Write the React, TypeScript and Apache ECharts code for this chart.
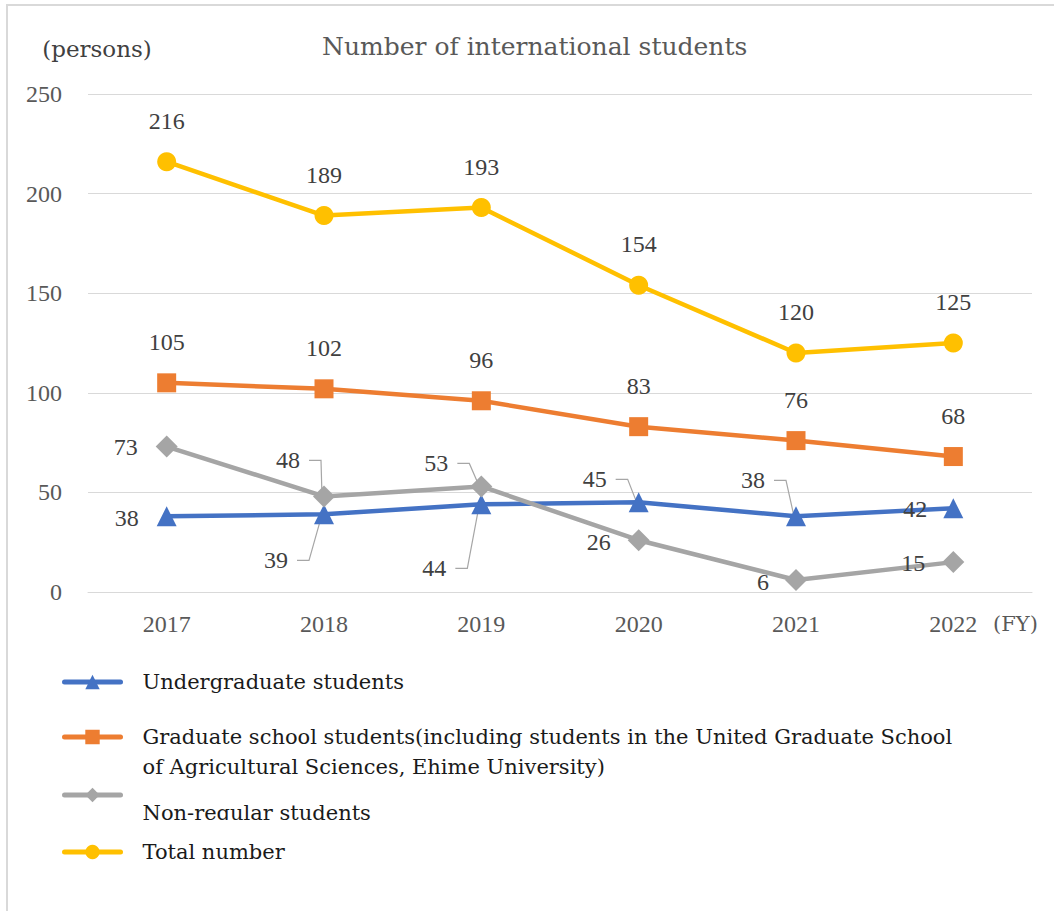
import React, { useEffect, useRef } from "react";
import * as echarts from "echarts";

const CATEGORIES = ["2017", "2018", "2019", "2020", "2021", "2022"];
const UNDERGRAD = [38, 39, 44, 45, 38, 42];
const GRADUATE = [105, 102, 96, 83, 76, 68];
const NON_REGULAR = [73, 48, 53, 26, 6, 15];
const TOTAL = [216, 189, 193, 154, 120, 125];
const Y_MIN = 0;
const Y_MAX = 250;
const Y_STEP = 50;

const SERIES_NAMES = [
  "Undergraduate students",
  "Graduate school students(including students in the United Graduate School of Agricultural Sciences, Ehime University)",
  "Non-regular students",
  "Total number",
];
const LEGEND_LINES = [
  ["Undergraduate students"],
  [
    "Graduate school students(including students in the United Graduate School",
    "of Agricultural Sciences, Ehime University)",
  ],
  ["Non-regular students"],
  ["Total number"],
];
const TITLE = "Number of international students";
const Y_UNIT = "(persons)";
const X_UNIT = "(FY)";

const COLORS = ["#4472C4", "#ED7D31", "#A5A5A5", "#FFC000"];
const SYMBOLS = ["triangle", "rect", "diamond", "circle"];
const SYMBOL_SIZES = [20, 19, 22, 19];

// label placement relative to each point (px), and which ones get a leader line
const LABEL_OFFSETS = [
  [[-40, 2], [-48, 46], [-47, 64], [-44, -23], [-43, -36], [-38, 1]],
  [[0, -41], [0, -41], [0, -41], [0, -41], [0, -41], [0, -41]],
  [[-41, 0], [-36, -36], [-45, -23], [-40, 2], [-33, 2], [-40, 1]],
  [[0, -41], [0, -41], [0, -41], [0, -41], [0, -41], [0, -41]],
];
const LEADERS = [
  [false, true, true, true, true, false],
  [false, false, false, false, false, false],
  [false, true, true, false, false, false],
  [false, false, false, false, false, false],
];

const SERIES_VALUES = [UNDERGRAD, GRADUATE, NON_REGULAR, TOTAL];

const TEXT_FONT = "DejaVu Serif";
const NUM_FONT = "Liberation Serif";
const LABEL_SIZE = 24;

export default function App() {
  const ref = useRef<HTMLDivElement>(null);

  useEffect(() => {
    if (!ref.current) return;
    const chart = echarts.init(ref.current, undefined, { renderer: "svg" });

    const legendTops = [667, 692, 762, 837];
    const legendPad = [0, 30, 36, 0];

    const baseGraphic: any[] = [
      {
        type: "rect",
        z: 100,
        silent: true,
        shape: { x: 7, y: 5, width: 1200, height: 1000 },
        style: { fill: "none", stroke: "#d9d9d9", lineWidth: 2 },
      },
      {
        type: "rect",
        z: 100,
        silent: true,
        shape: { x: 138, y: 820, width: 280, height: 14 },
        style: { fill: "#ffffff" },
      },
    ];

    const option: any = {
      animation: false,
      backgroundColor: "#ffffff",
      textStyle: { fontFamily: TEXT_FONT },
      title: {
        text: TITLE,
        left: 317,
        top: 29,
        textStyle: {
          fontFamily: TEXT_FONT,
          fontSize: 25,
          fontWeight: "normal",
          color: "#595959",
        },
      },
      grid: { left: 88, right: 22, top: 94, bottom: 319, containLabel: false },
      xAxis: {
        type: "category",
        data: CATEGORIES,
        boundaryGap: true,
        axisLine: { show: true, lineStyle: { color: "#d9d9d9", width: 1 } },
        axisTick: { show: false },
        axisLabel: {
          color: "#595959",
          fontFamily: NUM_FONT,
          fontSize: 24,
          margin: 20,
        },
        name: "\n" + X_UNIT,
        nameLocation: "end",
        nameGap: -39,
        nameTextStyle: {
          fontFamily: TEXT_FONT,
          fontSize: 21,
          color: "#595959",
          align: "left",
          verticalAlign: "middle",
          lineHeight: 64,
        },
      },
      yAxis: {
        type: "value",
        min: Y_MIN,
        max: Y_MAX,
        interval: Y_STEP,
        axisLine: { show: false },
        axisTick: { show: false },
        splitLine: { lineStyle: { color: "#d9d9d9", width: 1 } },
        axisLabel: {
          color: "#595959",
          fontFamily: NUM_FONT,
          fontSize: 24,
          margin: 26,
        },
        name: Y_UNIT,
        nameLocation: "end",
        nameGap: 34,
        nameTextStyle: {
          fontFamily: TEXT_FONT,
          fontSize: 23,
          color: "#404040",
          align: "center",
          padding: [0, 0, 0, 18],
        },
      },
      legend: SERIES_NAMES.map((name, i) => ({
        show: true,
        data: [name],
        orient: "vertical",
        left: 62,
        top: legendTops[i],
        padding: 0,
        itemWidth: 56,
        itemHeight: 18,
        selectedMode: false,
        lineStyle: { width: 5, cap: "round" },
        formatter: () =>
          (legendPad[i] ? "{pad| }\n" : "") +
          LEGEND_LINES[i].map((l) => "{t|" + l + "}").join("\n"),
        textStyle: {
          fontFamily: TEXT_FONT,
          fontSize: 21,
          color: "#1a1a1a",
          lineHeight: 30,
          padding: [0, 0, 0, 17],
          rich: {
            pad: { fontSize: 4, lineHeight: legendPad[i] || 30 },
            t: {
              fontFamily: TEXT_FONT,
              fontSize: 21,
              color: "#1a1a1a",
              lineHeight: 30,
            },
          },
        },
      })),
      series: SERIES_VALUES.map((vals, s) => ({
        type: "line",
        name: SERIES_NAMES[s],
        data: vals,
        symbol: SYMBOLS[s],
        symbolSize: SYMBOL_SIZES[s],
        showAllSymbol: true,
        lineStyle: { color: COLORS[s], width: 4.5 },
        itemStyle: { color: COLORS[s] },
        label: {
          show: true,
          position: "inside",
          color: "#404040",
          fontFamily: NUM_FONT,
          fontSize: LABEL_SIZE,
        },
        labelLayout: (p: any) => {
          const off = LABEL_OFFSETS[s][p.dataIndex];
          return { dx: off[0], dy: off[1] };
        },
        emphasis: { disabled: true },
        z: 2 + s,
      })),
      graphic: baseGraphic,
    };

    chart.setOption(option);

    // leader lines from moved labels to their points, placed with the chart's own scales
    const ctx = document.createElement("canvas").getContext("2d");
    const measure = (t: string) => {
      if (!ctx) return t.length * 12;
      ctx.font = `${LABEL_SIZE}px "${NUM_FONT}"`;
      return ctx.measureText(t).width;
    };
    const leaders: any[] = [];
    SERIES_VALUES.forEach((vals, s) => {
      vals.forEach((v, i) => {
        if (!LEADERS[s][i]) return;
        const pt = chart.convertToPixel({ seriesIndex: s }, [i, v]) as number[];
        const off = LABEL_OFFSETS[s][i];
        const cx = pt[0] + off[0];
        const cy = pt[1] + off[1];
        const hw = measure(String(v)) / 2;
        const x0 = cx + hw + 9;
        leaders.push({
          type: "polyline",
          z: 1,
          silent: true,
          shape: {
            points: [
              [x0, cy],
              [x0 + 12, cy],
              [pt[0] - 2, pt[1]],
            ],
          },
          style: { stroke: "#a6a6a6", lineWidth: 1.2, fill: "none" },
        });
      });
    });
    chart.setOption({ graphic: baseGraphic.concat(leaders) });

    return () => {
      chart.dispose();
    };
  }, []);

  return (
    <div
      ref={ref}
      style={{ position: "fixed", left: 0, top: 0, width: 1054, height: 911 }}
    />
  );
}
